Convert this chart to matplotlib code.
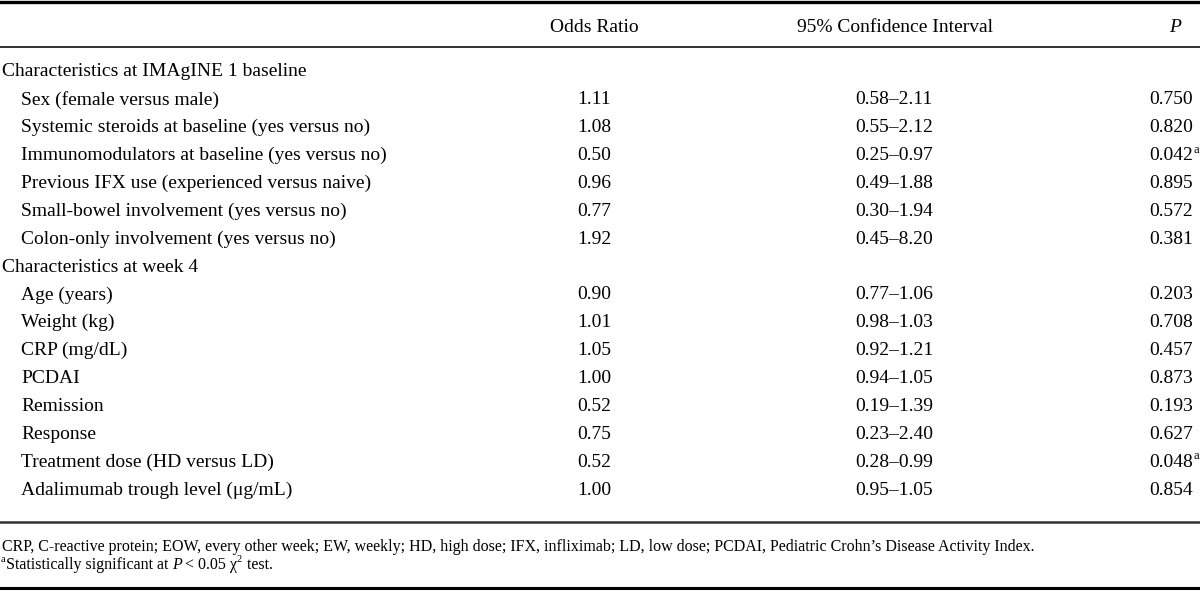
import matplotlib.pyplot as plt

plt.rcParams['font.family'] = ['Liberation Serif', 'DejaVu Serif']

# table content
headers = ['Odds Ratio', '95% Confidence Interval', 'P']
groups = ['Characteristics at IMAgINE 1 baseline', 'Characteristics at week 4']
group1 = ['Sex (female versus male)',
          'Systemic steroids at baseline (yes versus no)',
          'Immunomodulators at baseline (yes versus no)',
          'Previous IFX use (experienced versus naive)',
          'Small-bowel involvement (yes versus no)',
          'Colon-only involvement (yes versus no)']
group2 = ['Age (years)', 'Weight (kg)', 'CRP (mg/dL)', 'PCDAI', 'Remission',
          'Response', 'Treatment dose (HD versus LD)',
          'Adalimumab trough level (\u03bcg/mL)']
odds = ['1.11', '1.08', '0.50', '0.96', '0.77', '1.92',
        '0.90', '1.01', '1.05', '1.00', '0.52', '0.75', '0.52', '1.00']
ci = ['0.58\u20132.11', '0.55\u20132.12', '0.25\u20130.97', '0.49\u20131.88',
      '0.30\u20131.94', '0.45\u20138.20',
      '0.77\u20131.06', '0.98\u20131.03', '0.92\u20131.21', '0.94\u20131.05',
      '0.19\u20131.39', '0.23\u20132.40', '0.28\u20130.99', '0.95\u20131.05']
pvals = ['0.750', '0.820', '0.042', '0.895', '0.572', '0.381',
         '0.203', '0.708', '0.457', '0.873', '0.193', '0.627', '0.048', '0.854']
signif = [False, False, True, False, False, False,
          False, False, False, False, False, False, True, False]
footnote = ('CRP, C-reactive protein; EOW, every other week; EW, weekly; HD, high dose; '
            'IFX, infliximab; LD, low dose; PCDAI, Pediatric Crohn\u2019s Disease Activity Index.')

fig = plt.figure(figsize=(12, 5.91), dpi=100)
ax = fig.add_axes([0, 0, 1, 1])
ax.set_xlim(0, 1200)
ax.set_ylim(591, 0)
ax.axis('off')

fs = 14
ffs = 11.5
col_or = 594
col_ci = 894
col_p = 1193

# rules
ax.plot([0, 1200], [1.5, 1.5], color='black', lw=2.4)
ax.plot([0, 1200], [47, 47], color='#222222', lw=1.3)
ax.plot([0, 1200], [522, 522], color='#333333', lw=1.8)
ax.plot([0, 1200], [588, 588], color='black', lw=2.2)

# header
ax.text(col_or, 27, headers[0], ha='center', va='center', fontsize=fs)
ax.text(895, 27, headers[1], ha='center', va='center', fontsize=fs)
ax.text(1175, 27, headers[2], ha='center', va='center', fontsize=fs, style='italic')

# rows
pitch = 27.87
rows = [(groups[0], True)] + [(r, False) for r in group1] + \
       [(groups[1], True)] + [(r, False) for r in group2]
y = 72
k = 0
for label, is_group in rows:
    if is_group:
        ax.text(2, y, label, ha='left', va='center', fontsize=fs)
    else:
        ax.text(21, y, label, ha='left', va='center', fontsize=fs)
        ax.text(col_or, y, odds[k], ha='center', va='center', fontsize=fs)
        ax.text(col_ci, y, ci[k], ha='center', va='center', fontsize=fs)
        ax.text(col_p, y, pvals[k], ha='right', va='center', fontsize=fs)
        if signif[k]:
            ax.text(col_p + 0.5, y - 6, 'a', ha='left', va='center', fontsize=9)
        k += 1
    y += pitch

# footnotes
ax.text(2, 547, footnote, ha='left', va='center', fontsize=ffs)

# second footnote laid out piece by piece
renderer = fig.canvas.get_renderer()
parts = [('a', 7.5, 'normal', -5, 0),
         ('Statistically significant at ', ffs, 'normal', 0, 0),
         ('P', ffs, 'italic', 0, 3),
         ('< 0.05 \u03c7', ffs, 'normal', 0, 0),
         ('2', 7.5, 'normal', -5, 1),
         (' test.', ffs, 'normal', 0, 0)]
x = 1
for txt, size, st, dy, gap in parts:
    t = ax.text(x, 565 + dy, txt, ha='left', va='center', fontsize=size, style=st)
    bb = t.get_window_extent(renderer=renderer)
    x += bb.width + gap

fig.savefig('out.png', dpi=100)
